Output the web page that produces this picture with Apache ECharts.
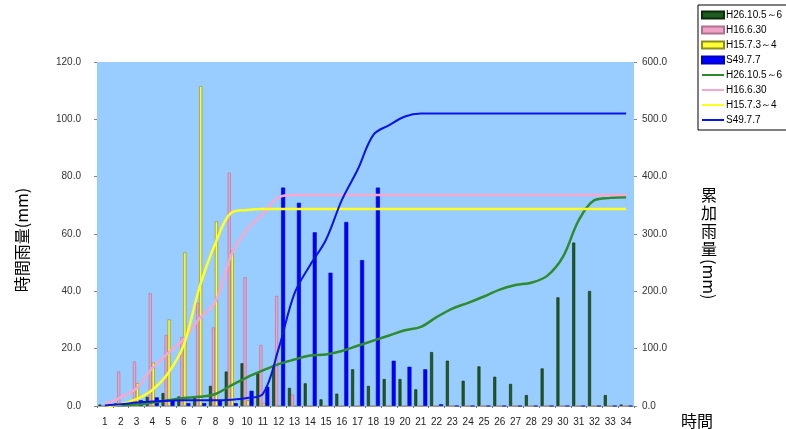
<!DOCTYPE html>
<html>
<head>
<meta charset="utf-8">
<script src="https://cdn.jsdelivr.net/npm/echarts/dist/echarts.min.js"></script>
<style>
html,body{margin:0;padding:0;background:#fff;}
#c{width:786px;height:429px;}
</style>
</head>
<body>
<div id="c"></div>
<script>
var categories = ['1','2','3','4','5','6','7','8','9','10','11','12','13','14','15','16','17','18','19','20','21','22','23','24','25','26','27','28','29','30','31','32','33','34'];

var leftTicks = [0, 20, 40, 60, 80, 100, 120];
var rightTicks = [0, 100, 200, 300, 400, 500, 600];

var names = ['H26.10.5～6', 'H16.6.30', 'H15.7.3～4', 'S49.7.7'];

// hourly rainfall (mm)
var barH26 = [0.5,1.0,0.5,3.2,4.5,3.3,3.0,7.0,12.0,14.9,11.4,14.0,6.3,7.9,2.3,4.3,12.8,7.0,9.4,9.4,5.8,18.8,15.8,8.8,13.8,10.2,7.7,3.8,13.1,37.9,57.0,40.1,3.8,0.5];
var barH16 = [0,12.0,15.5,39.3,24.8,24.0,36.0,27.4,81.4,44.9,21.3,38.4,4.0,0,0,0,0,0,0,0,0,0,0,0,0,0,0,0,0,0,0,0,0,0];
var barH15 = [0,1.0,8.0,15.1,30.2,53.6,111.6,64.4,54.2,2.0,1.0,0,0,0,0,0,0,0,0,0,0,0,0,0,0,0,0,0,0,0,0,0,0,0];
var barS49 = [0,0.5,2.0,3.0,2.0,1.0,1.0,2.0,1.0,5.3,6.7,76.2,70.9,60.6,46.5,64.2,50.9,76.2,15.8,13.7,12.8,0.6,0,0,0,0,0,0,0,0,0,0,0,0];

// cumulative rainfall (mm)
var cumH26 = [0.5,1.5,2.5,6,10,14,16,21,36,50,62,73,81,88,90,96,105,114,123,132,138,155,170,180,191,203,211,215,227,260,324,359,363,364];
var cumH16 = [3,15,31,66,92,117,153,182,263,308,335,364,368,368,368,368,368,368,368,368,368,368,368,368,368,368,368,368,368,368,368,368,368,368];
var cumH15 = [0,3,12,28,57,107,208,284,337,342,343.5,343.5,343.5,343.5,343.5,343.5,343.5,343.5,343.5,343.5,343.5,343.5,343.5,343.5,343.5,343.5,343.5,343.5,343.5,343.5,343.5,343.5,343.5,343.5];
var cumS49 = [1,3,6,8,9,10,10,10,11,14,21,100,196,246,290,359,412,473,490,505,510,510,510,510,510,510,510,510,510,510,510,510,510,510];

var narrow = "'Liberation Sans Narrow','Arial Narrow','Liberation Sans',sans-serif";
var cjk = "'Noto Sans CJK JP',sans-serif";
var ZW = '\u200b';

var chart = echarts.init(document.getElementById('c'), null, {renderer:'canvas'});

function bar(name, data, color, border, w) {
  return {
    name: name, type: 'bar', yAxisIndex: 0, data: data,
    barWidth: w, barGap: '0%',
    itemStyle: {color: color, borderColor: border, borderWidth: 0.6},
    z: 2, animation: false
  };
}
function line(name, data, color, w) {
  return {
    name: name + ZW, type: 'line', yAxisIndex: 1, data: data,
    smooth: 0.35, symbol: 'none', showSymbol: false,
    lineStyle: {color: color, width: w}, itemStyle: {color: color},
    z: 3, animation: false
  };
}
var hideSym = {color: 'rgba(0,0,0,0)', borderWidth: 0, opacity: 0};

chart.setOption({
  animation: false,
  backgroundColor: '#fff',
  grid: {left: 97, right: 152, top: 62, bottom: 23, show: true, backgroundColor: '#99CCFF', borderWidth: 0},
  legend: {
    orient: 'vertical', left: 698, top: 5,
    backgroundColor: '#fff', borderColor: '#000', borderWidth: 1,
    padding: [5, 90, 5, 3], itemWidth: 22, itemHeight: 7, itemGap: 5,
    textStyle: {fontSize: 10, fontFamily: narrow, color: '#000', padding: [0,0,0,-3]},
    data: [
      {name: names[0], icon: 'rect'},
      {name: names[1], icon: 'rect'},
      {name: names[2], icon: 'rect'},
      {name: names[3], icon: 'rect'},
      {name: names[0] + ZW, itemStyle: hideSym},
      {name: names[1] + ZW, itemStyle: hideSym},
      {name: names[2] + ZW, itemStyle: hideSym},
      {name: names[3] + ZW, itemStyle: hideSym}
    ]
  },
  xAxis: {
    type: 'category', data: categories,
    axisLine: {show: true, lineStyle: {color: '#aab4c0', width: 1}},
    axisTick: {show: true, length: 2, lineStyle: {color: '#777'}},
    axisLabel: {interval: 0, fontSize: 10, fontFamily: narrow, color: '#222', margin: 11}
  },
  yAxis: [
    {
      type: 'value', min: 0, max: 120, interval: 20,
      splitLine: {show: false},
      axisLine: {show: false},
      axisTick: {show: true, length: 3, lineStyle: {color: '#888'}},
      axisLabel: {fontSize: 10, fontFamily: narrow, color: '#333', margin: 16,
        formatter: function(v){ return v.toFixed(1); }}
    },
    {
      type: 'value', min: 0, max: 600, interval: 100, position: 'right',
      splitLine: {show: false},
      axisLine: {show: false},
      axisTick: {show: true, length: 3, lineStyle: {color: '#888'}},
      axisLabel: {fontSize: 10, fontFamily: narrow, color: '#333', margin: 8,
        formatter: function(v){ return v.toFixed(1); }}
    }
  ],
  graphic: [
    {type: 'text', x: 22, y: 240, rotation: Math.PI/2,
      style: {text: '時間雨量(mm)', font: '16px ' + cjk, fill: '#000', align: 'center', verticalAlign: 'middle'}},
    {type: 'text', x: 709, y: 186,
      style: {text: '累\n加\n雨\n量', font: '16px ' + cjk, lineHeight: 18, fill: '#000', align: 'center', verticalAlign: 'top'}},
    {type: 'text', x: 709, y: 259, rotation: -Math.PI/2,
      style: {text: '(mm)', font: '16px ' + cjk, fill: '#000', align: 'left', verticalAlign: 'middle'}},
    {type: 'text', x: 697, y: 421,
      style: {text: '時間', font: '16px ' + cjk, fill: '#000', align: 'center', verticalAlign: 'middle'}}
  ],
  series: [
    bar(names[0], barH26, '#1F5C1F', '#0B2A0B', 3),
    bar(names[1], barH16, '#F2A2C6', '#B07090', 3),
    bar(names[2], barH15, '#FFFF33', '#8C8C20', 3),
    bar(names[3], barS49, '#0000FF', '#0000C0', 4),
    line(names[0], cumH26, '#2E8B2E', 2.5),
    line(names[1], cumH16, '#F7A8CE', 2.5),
    line(names[2], cumH15, '#FFFF22', 2.5),
    line(names[3], cumS49, '#0A14E6', 2)
  ]
});
</script>
</body>
</html>
